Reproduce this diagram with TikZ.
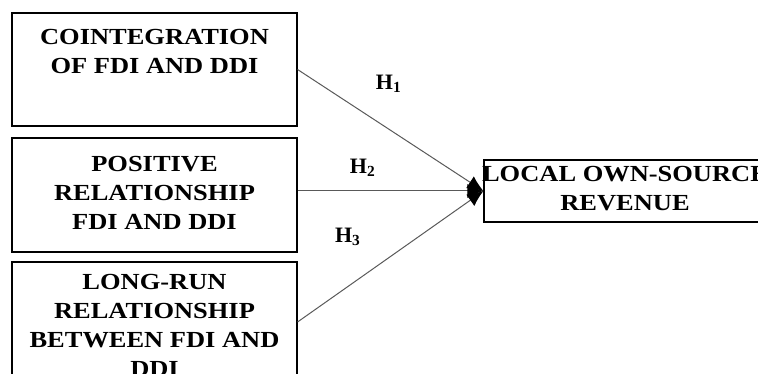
\documentclass[tikz,border=0pt]{standalone}
\usepackage{fontspec}
\setmainfont{Liberation Serif}
\newfontfamily\boxfont[FakeStretch=1.15]{Liberation Serif}
\usepackage{tikz}
\usetikzlibrary{arrows.meta, calc, positioning}

\begin{document}
\begin{tikzpicture}[
		x=1pt, y=-1pt,
		box/.style={draw, line width=1.1pt, inner sep=0pt},
		title/.style={font=\boxfont\bfseries\fontsize{23}{29}\selectfont, align=center, inner sep=0pt},
		hyp/.style={font=\bfseries\fontsize{22}{24}\selectfont, text=black, inner sep=0pt},
		link/.style={draw, line width=1pt, black!65, -{Latex[length=16pt, width=14pt, color=black]}}
		]
		\path[use as bounding box, clip] (0,0) rectangle (758,374);
		
		% Les variables
		\node[box, minimum width=285pt, minimum height=113pt] (coint) at (154.5, 69.5) {};
		\node[box, minimum width=285pt, minimum height=114pt] (positive) at (154.5, 195) {};
		\node[box, minimum width=285pt, minimum height=120pt] (longrun) at (154.5, 322) {};
		\node[box, minimum width=282pt, minimum height=62pt] (revenue) at (625, 191) {};
		
		% Les textes
		\node[title, below=17pt of coint.north] (coint-text) {COINTEGRATION\\OF FDI AND DDI};
		\node[title, below=19pt of positive.north] (positive-text) {POSITIVE\\RELATIONSHIP\\FDI AND DDI};
		\node[title, below=13pt of longrun.north] (longrun-text) {LONG-RUN\\RELATIONSHIP\\BETWEEN FDI AND\\DDI};
		\node[title, below=7pt of revenue.north] (revenue-text) {LOCAL OWN-SOURCE\\REVENUE};
		
		% Les hypotheses
		\draw[link] (coint.east) to node[hyp, pos=0.49, yshift=45pt] (h1) {H\textsubscript{1}} (revenue.west);
		\draw[link] (positive.east |- revenue.west) to node[hyp, pos=0.35, yshift=23pt] (h2) {H\textsubscript{2}} (revenue.west);
		\draw[link] (longrun.east) to node[hyp, pos=0.27, yshift=50pt] (h3) {H\textsubscript{3}} (revenue.west);
	\end{tikzpicture}
\end{document}
